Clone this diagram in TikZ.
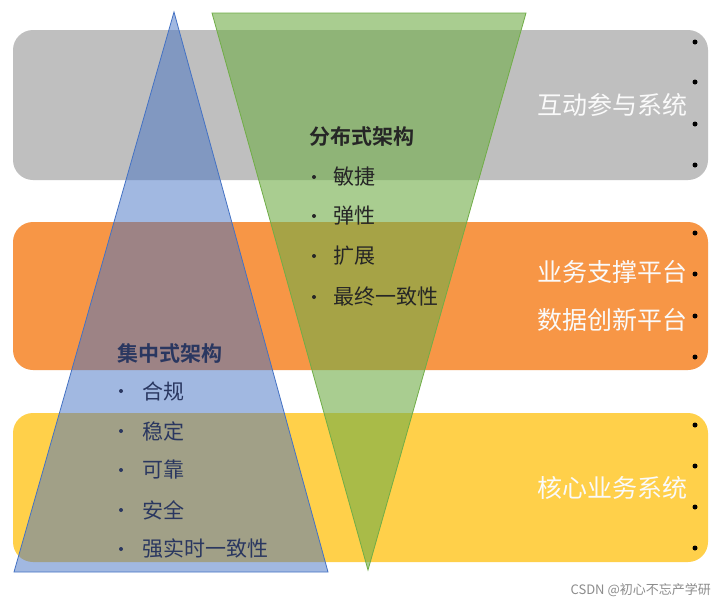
\documentclass[tikz,border=0pt]{standalone}
\usepackage{fontspec}
\setmainfont{Noto Sans CJK SC}
\newfontfamily\cjkb{Noto Sans CJK SC Bold}
\begin{document}
\begin{tikzpicture}[x=1pt,y=-1pt,
  band/.style={rounded corners=20pt},
  blk/.style={circle,fill=black,inner sep=0pt,minimum size=5pt},
  lbl/.style={anchor=east,text=white!96!gray,font=\fontsize{25}{25}\selectfont,inner sep=0pt},
  gtxt/.style={anchor=west,text=black!85,font=\fontsize{21}{21}\selectfont,inner sep=0pt},
  btxt/.style={anchor=west,text=navy,font=\fontsize{21}{21}\selectfont,inner sep=0pt},
  bul/.style={circle,inner sep=0pt,minimum size=4pt}]
\definecolor{bgray}{HTML}{BFBFBF}
\definecolor{borange}{HTML}{F79646}
\definecolor{byellow}{HTML}{FFD04A}
\definecolor{tblue}{HTML}{4472C4}
\definecolor{tgreen}{HTML}{70AD47}
\definecolor{navy}{HTML}{2A3760}
\useasboundingbox (0,0) rectangle (721,603);
\fill[white] (0,0) rectangle (721,603);
% bands
\fill[bgray,band] (13,30) rectangle (708,180);
\fill[borange,band] (13,222) rectangle (708,370);
\fill[byellow,band] (13,413) rectangle (708,562);
% dots
\foreach \y in {42,82,124,165,233,274,316,357,425,466,507,548}
  \node[blk] at (695,\y) {};
% triangles
\filldraw[fill=tblue,fill opacity=0.5,draw=tblue,line width=0.8pt] (174,12) -- (328,572) -- (14,572) -- cycle;
\filldraw[fill=tgreen,fill opacity=0.6,draw=tgreen,line width=0.8pt] (212,13) -- (526,13) -- (368,570) -- cycle;
% band labels
\node[lbl] (l1) at (688,105) {互动参与系统};
\node[lbl] (l2) at (688,272) {业务支撑平台};
\node[lbl] (l3) at (688,320) {数据创新平台};
\node[lbl] (l4) at (688,488) {核心业务系统};
% green text
\node[gtxt,font=\cjkb\fontsize{21}{21}\selectfont] (gt) at (309,137) {分布式架构};
\foreach \t/\y [count=\i] in {敏捷/177,弹性/216,扩展/256,最终一致性/297}{
  \node[bul,fill=black!85] (gb\i) at (314,\y) {};
  \node[gtxt] (g\i) at (333,\y) {\t};
}
% blue text
\node[btxt,font=\cjkb\fontsize{21}{21}\selectfont] (bt) at (117,353) {集中式架构};
\foreach \t/\y [count=\i] in {合规/391,稳定/431,可靠/470,安全/510,强实时一致性/549}{
  \node[bul,fill=navy] (bb\i) at (121,\y) {};
  \node[btxt] (b\i) at (142,\y) {\t};
}
% watermark
\node[anchor=east,text=black!45,font=\fontsize{13}{13}\selectfont,inner sep=0pt] (wm) at (711,590) {CSDN @初心不忘产学研};
\end{tikzpicture}
\end{document}
